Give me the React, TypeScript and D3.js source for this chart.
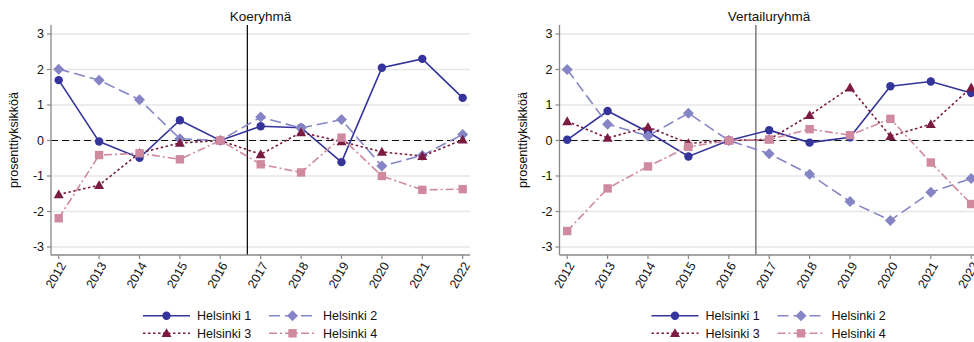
import React from 'react';
import * as d3 from 'd3';

// years on the x axis
const years = [2012, 2013, 2014, 2015, 2016, 2017, 2018, 2019, 2020, 2021, 2022];
const yTicks = [-3, -2, -1, 0, 1, 2, 3];

// Koeryhmä
const koeH1 = [1.7, -0.03, -0.49, 0.57, 0, 0.4, 0.36, -0.61, 2.05, 2.3, 1.2];
const koeH2 = [2.01, 1.7, 1.15, 0.05, 0, 0.66, 0.35, 0.59, -0.72, -0.42, 0.17];
const koeH3 = [-1.52, -1.26, -0.35, -0.07, 0, -0.39, 0.23, -0.03, -0.32, -0.44, 0.02];
const koeH4 = [-2.19, -0.41, -0.36, -0.53, 0, -0.67, -0.9, 0.08, -1.0, -1.39, -1.37];

// Vertailuryhmä
const verH1 = [0.02, 0.83, 0.24, -0.45, 0, 0.29, -0.06, 0.09, 1.53, 1.66, 1.34];
const verH2 = [2.0, 0.46, 0.13, 0.77, 0, -0.37, -0.95, -1.72, -2.25, -1.46, -1.07];
const verH3 = [0.54, 0.07, 0.38, -0.08, 0, 0.03, 0.71, 1.49, 0.12, 0.46, 1.49];
const verH4 = [-2.55, -1.35, -0.73, -0.18, 0, 0.03, 0.32, 0.15, 0.61, -0.62, -1.79];

const seriesNames = ['Helsinki 1', 'Helsinki 2', 'Helsinki 3', 'Helsinki 4'];
const colors = ['#34349a', '#8585c6', '#7a1c42', '#d08a9f'];
const dashes = ['none', '11,5', '2.5,2.5', '8,3,2,3'];
const markers = ['circle', 'diamond', 'triangle', 'square'];

const FONT = 'Liberation Sans, Arial, sans-serif';

const Marker = ({ type, x, y, color }: any) => {
  if (type === 'circle') return <circle cx={x} cy={y} r={4.2} fill={color} />;
  if (type === 'diamond')
    return <path d={`M${x},${y - 5.5}L${x + 5.5},${y}L${x},${y + 5.5}L${x - 5.5},${y}Z`} fill={color} />;
  if (type === 'triangle')
    return <path d={`M${x},${y - 5}L${x + 5},${y + 3.8}L${x - 5},${y + 3.8}Z`} fill={color} />;
  return <rect x={x - 4.2} y={y - 4.2} width={8.4} height={8.4} fill={color} />;
};

const Panel = ({ x0, title, data, vColor }: any) => {
  const axisX = 51;
  const plotRight = 470;
  const plotTop = 25;
  const plotBottom = 255;
  const x = d3.scaleLinear().domain([2012, 2022]).range([58.7, 462.7]);
  const y = d3.scaleLinear().domain([-3, 3]).range([247, 34]);
  const line = d3.line<number>().x((d, i) => x(years[i])).y(d => y(d));

  return (
    <g transform={`translate(${x0},0)`}>
      <text x={(axisX + plotRight) / 2} y={21} textAnchor="middle" fontSize={13.5} fontFamily={FONT} fill="#111">{title}</text>
      {yTicks.map(t => (
        <line key={'g' + t} x1={axisX} x2={plotRight} y1={y(t)} y2={y(t)} stroke="#e6e6e6" strokeWidth={1.6} />
      ))}
      <line x1={axisX} x2={plotRight} y1={y(0)} y2={y(0)} stroke="#111" strokeWidth={1.2} strokeDasharray="7,4" />
      <line x1={x(2016.67)} x2={x(2016.67)} y1={plotTop} y2={plotBottom} stroke={vColor} strokeWidth={1.3} />
      {/* axes */}
      <line x1={axisX} x2={axisX} y1={plotTop} y2={plotBottom} stroke="#888" strokeWidth={1.3} />
      <line x1={axisX} x2={plotRight} y1={plotBottom} y2={plotBottom} stroke="#888" strokeWidth={1.3} />
      {yTicks.map(t => (
        <g key={'y' + t}>
          <line x1={axisX - 4} x2={axisX} y1={y(t)} y2={y(t)} stroke="#888" strokeWidth={1.2} />
          <text x={axisX - 7} y={y(t)} dy="0.35em" textAnchor="end" fontSize={12.5} fontFamily={FONT} fill="#111">{t}</text>
        </g>
      ))}
      {years.map(yr => (
        <g key={'x' + yr}>
          <line x1={x(yr)} x2={x(yr)} y1={plotBottom} y2={plotBottom + 4} stroke="#888" strokeWidth={1.2} />
          <text transform={`translate(${x(yr) + 4},${plotBottom + 8}) rotate(-60)`} textAnchor="end" dy="0.35em"
            fontSize={12.5} fontFamily={FONT} fill="#111">{yr}</text>
        </g>
      ))}
      <text transform={`translate(18,140) rotate(-90)`} textAnchor="middle" fontSize={12.5} fontFamily={FONT} fill="#111">prosenttiyksikköä</text>
      {/* series */}
      {data.map((s: number[], i: number) => (
        <g key={'s' + i}>
          <path d={line(s) || ''} fill="none" stroke={colors[i]} strokeWidth={1.6} strokeDasharray={dashes[i]} />
          {s.map((v, j) => (
            <Marker key={j} type={markers[i]} x={x(years[j])} y={y(v)} color={colors[i]} />
          ))}
        </g>
      ))}
      {/* legend */}
      {seriesNames.map((name, i) => {
        const lx = i % 2 === 0 ? 143 : 269;
        const ly = i < 2 ? 315.7 : 333.3;
        return (
          <g key={'l' + i}>
            <line x1={lx} x2={lx + 47} y1={ly} y2={ly} stroke={colors[i]} strokeWidth={1.6} strokeDasharray={dashes[i]} />
            <Marker type={markers[i]} x={lx + 23.5} y={ly} color={colors[i]} />
            <text x={lx + 54} y={ly} dy="0.35em" fontSize={12.5} fontFamily={FONT} fill="#111">{name}</text>
          </g>
        );
      })}
    </g>
  );
};

const App = () => {
  return (
    <svg width={974} height={342} style={{ position: 'absolute', left: 0, top: 0, background: '#fff' }}>
      <rect width={974} height={342} fill="#fff" />
      <Panel x0={0} title="Koeryhmä" data={[koeH1, koeH2, koeH3, koeH4]} vColor="#111" />
      <Panel x0={508.5} title="Vertailuryhmä" data={[verH1, verH2, verH3, verH4]} vColor="#666" />
    </svg>
  );
};

export default App;
